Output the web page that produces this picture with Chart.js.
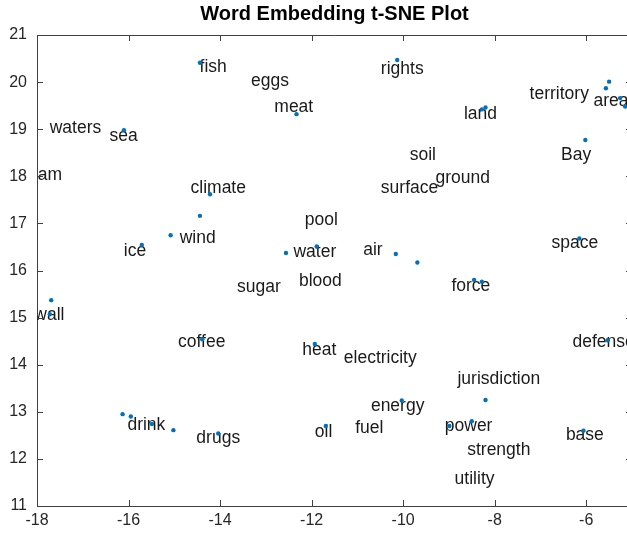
<!DOCTYPE html>
<html>
<head>
<meta charset="utf-8">
<title>Word Embedding t-SNE Plot</title>
<script src="https://cdn.jsdelivr.net/npm/chart.js@4.4.0/dist/chart.umd.min.js"></script>
<style>
  html, body { margin: 0; padding: 0; background: #fff; overflow: hidden; }
  #wrap { width: 640px; height: 534px; }
</style>
</head>
<body>
<div id="wrap"><canvas id="myChart" width="640" height="534"></canvas></div>
<script>
  // words shown on the plot and where their text sits (data units)
  var words = ["fish", "eggs", "meat", "waters", "sea", "am", "climate", "pool", "wind", "ice",
    "water", "air", "blood", "sugar", "wall", "coffee", "heat", "electricity", "rights", "territory",
    "area", "land", "soil", "Bay", "surface", "ground", "space", "force", "defense", "jurisdiction",
    "energy", "oil", "fuel", "power", "strength", "utility", "base", "drink", "drugs"];
  var labelX = [-14.15, -12.91, -12.39, -17.16, -16.11, -17.72, -14.04, -11.79, -14.49, -15.86,
    -11.93, -10.66, -11.81, -13.15, -17.73, -14.40, -11.83, -10.50, -10.02, -6.59,
    -5.46, -8.31, -9.57, -6.22, -9.86, -8.70, -6.25, -8.52, -5.62, -7.91,
    -10.12, -11.74, -10.74, -8.57, -7.91, -8.44, -6.03, -15.61, -14.04];
  var labelY = [20.31, 20.02, 19.47, 19.03, 18.86, 18.03, 17.75, 17.07, 16.68, 16.42,
    16.38, 16.44, 15.78, 15.64, 15.06, 14.47, 14.31, 14.13, 20.27, 19.74,
    19.60, 19.32, 18.45, 18.45, 17.75, 17.97, 16.59, 15.66, 14.47, 13.69,
    13.11, 12.56, 12.66, 12.69, 12.18, 11.57, 12.51, 12.71, 12.45];

  // embedding points (markers)
  var pointX = [-14.44, -12.33, -16.10, -14.22, -14.44, -15.08, -15.71, -12.56, -11.89, -10.13,
    -5.50, -5.57, -5.26, -5.15, -8.28, -8.20, -6.02, -6.15, -10.16, -9.69,
    -17.69, -17.72, -14.39, -11.93, -16.13, -15.95, -15.49, -15.02, -14.04, -8.45,
    -8.28, -5.53, -10.03, -8.20, -8.50, -8.99, -11.69, -6.06];
  var pointY = [20.41, 19.32, 18.98, 17.62, 17.16, 16.75, 16.54, 16.37, 16.51, 20.47,
    20.01, 19.87, 19.66, 19.48, 19.42, 19.46, 18.77, 16.68, 16.35, 16.17,
    15.37, 15.07, 14.54, 14.44, 12.95, 12.90, 12.74, 12.61, 12.54, 15.80,
    15.76, 14.52, 13.24, 13.25, 12.80, 12.70, 12.70, 12.60];

  var xTicks = [-18, -16, -14, -12, -10, -8, -6];
  var yTicks = [11, 12, 13, 14, 15, 16, 17, 18, 19, 20, 21];

  var axisColor = "#404040";
  var fontName = "'Liberation Sans', Arial, Helvetica, sans-serif";

  var points = pointX.map(function (x, i) {
    return { x: x, y: pointY[i] };
  });

  // word labels, placed through the scales and clipped to the axes
  var wordLabels = {
    id: "wordLabels",
    beforeDatasetsDraw: function (chart) {
      var ctx = chart.ctx;
      var area = chart.chartArea;
      var xs = chart.scales.x;
      var ys = chart.scales.y;
      ctx.save();
      ctx.beginPath();
      ctx.rect(area.left, area.top, area.right - area.left, area.bottom - area.top);
      ctx.clip();
      ctx.fillStyle = "#1a1a1a";
      ctx.font = "17.5px " + fontName;
      ctx.textAlign = "center";
      ctx.textBaseline = "middle";
      words.forEach(function (w, i) {
        ctx.fillText(w, xs.getPixelForValue(labelX[i]), ys.getPixelForValue(labelY[i]));
      });
      ctx.restore();
    },
  };

  // matlab style box with inward ticks
  var boxTicks = {
    id: "boxTicks",
    afterDraw: function (chart) {
      var ctx = chart.ctx;
      var a = chart.chartArea;
      var xs = chart.scales.x;
      var ys = chart.scales.y;
      var len = 6;
      ctx.save();
      ctx.strokeStyle = axisColor;
      ctx.lineWidth = 1;
      ctx.beginPath();
      ctx.moveTo(a.left, a.top + 0.5);
      ctx.lineTo(a.right, a.top + 0.5);
      ctx.moveTo(a.right - 0.5, a.top);
      ctx.lineTo(a.right - 0.5, a.bottom);
      xTicks.forEach(function (v) {
        var px = Math.round(xs.getPixelForValue(v)) + 0.5;
        ctx.moveTo(px, a.bottom);
        ctx.lineTo(px, a.bottom - len);
        ctx.moveTo(px, a.top);
        ctx.lineTo(px, a.top + len);
      });
      yTicks.forEach(function (v) {
        var py = Math.round(ys.getPixelForValue(v)) + 0.5;
        ctx.moveTo(a.left, py);
        ctx.lineTo(a.left + len, py);
        ctx.moveTo(a.right, py);
        ctx.lineTo(a.right - len, py);
      });
      ctx.stroke();
      ctx.restore();
    },
  };

  var config = {
    type: "scatter",
    data: {
      datasets: [
        {
          label: "words",
          data: points,
          backgroundColor: "#0072BD",
          borderColor: "#0072BD",
          pointRadius: 2.2,
          pointBorderWidth: 0,
        },
      ],
    },
    options: {
      responsive: false,
      animation: false,
      layout: { padding: { left: 0, right: 8, top: 0, bottom: 0 } },
      plugins: {
        legend: { display: false },
        tooltip: { enabled: false },
        title: {
          display: true,
          text: "Word Embedding t-SNE Plot",
          fullSize: false,
          color: "#000",
          font: { family: fontName, size: 20, weight: "bold", lineHeight: 1.2 },
          padding: { top: 2, bottom: 9 },
        },
      },
      scales: {
        x: {
          type: "linear",
          min: -18,
          max: -5,
          afterFit: function (s) { s.height = 28; },
          afterBuildTicks: function (s) {
            s.ticks = xTicks.map(function (v) { return { value: v }; });
          },
          grid: { display: false, drawTicks: false },
          border: { display: true, color: axisColor, width: 1 },
          ticks: {
            color: "#262626",
            padding: 5,
            maxRotation: 0,
            font: { family: fontName, size: 16 },
          },
        },
        y: {
          type: "linear",
          min: 11,
          max: 21,
          afterFit: function (s) { s.width = 37; },
          afterBuildTicks: function (s) {
            s.ticks = yTicks.map(function (v) { return { value: v }; });
          },
          grid: { display: false, drawTicks: false },
          border: { display: true, color: axisColor, width: 1 },
          ticks: {
            color: "#262626",
            padding: 10,
            font: { family: fontName, size: 16 },
          },
        },
      },
    },
    plugins: [wordLabels, boxTicks],
  };

  var myChart = new Chart(document.getElementById("myChart"), config);
</script>
</body>
</html>
